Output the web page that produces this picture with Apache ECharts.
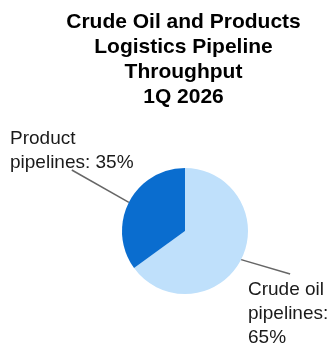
<!DOCTYPE html>
<html>
<head>
<meta charset="utf-8">
<script src="https://cdn.jsdelivr.net/npm/echarts@6/dist/echarts.min.js"></script>
<style>
  html, body { margin: 0; padding: 0; background: #fff; }
  #chart { width: 330px; height: 343px; }
</style>
</head>
<body>
<div id="chart"></div>
<script>
// 数据
const titleLines = ['Crude Oil and Products', 'Logistics Pipeline', 'Throughput', '1Q 2026'];
const categories = ['Crude oil\npipelines:\n', 'Product\npipelines: '];
const shares = [65, 35];
const sliceColors = ['#bfe0fb', '#0a6dcf'];

const chart = echarts.init(document.getElementById('chart'), null, { renderer: 'canvas' });

// 标签位置（左上角）
const labelPos = [
  { x: 248, y: 278, anchor: 'top' },
  { x: 10, y: 127, anchor: 'bottom' }
];

const option = {
  animation: false,
  title: {
    text: titleLines.join('\n'),
    left: 183.5,
    top: 10,
    padding: 0,
    textAlign: 'center',
    textStyle: {
      fontFamily: 'Liberation Sans',
      fontSize: 21,
      fontWeight: 'bold',
      color: '#000',
      lineHeight: 25
    }
  },
  series: [
    {
      type: 'pie',
      center: [185, 231],
      radius: [0, 63],
      startAngle: 90,
      clockwise: true,
      silent: true,
      data: categories.map((name, i) => ({
        name,
        value: shares[i],
        itemStyle: { color: sliceColors[i] }
      })),
      label: {
        show: true,
        position: 'outside',
        overflow: 'none',
        formatter: p => p.name + p.value + '%',
        fontFamily: 'Liberation Sans',
        fontSize: 19,
        lineHeight: 24,
        color: '#1a1a1a'
      },
      labelLine: {
        show: true,
        length: 10,
        length2: 0,
        lineStyle: { color: '#666', width: 1.5 }
      },
      labelLayout: function (params) {
        const pos = labelPos[params.dataIndex];
        const w = params.labelRect.width;
        const h = params.labelRect.height;
        const p0 = params.labelLinePoints[0];
        const end = pos.anchor === 'bottom'
          ? [pos.x + w / 2, pos.y + h - 5]
          : [pos.x + w / 2 + 2, pos.y - 4];
        return {
          x: pos.x,
          y: pos.y,
          align: 'left',
          verticalAlign: 'top',
          labelLinePoints: [p0, end, end]
        };
      }
    }
  ]
};

chart.setOption(option);
</script>
</body>
</html>
